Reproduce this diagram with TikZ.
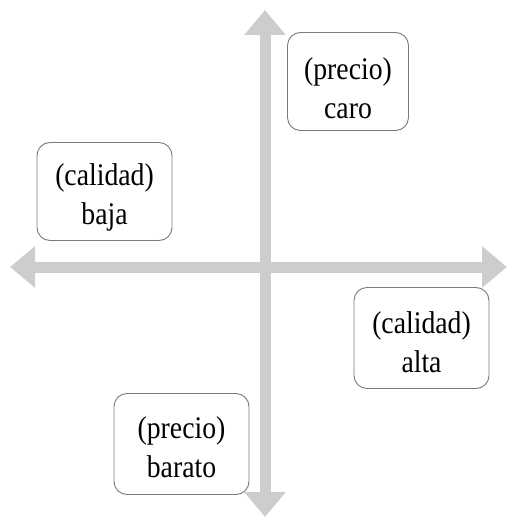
\documentclass[tikz,border=0pt]{standalone}
\usepackage{fontspec}
\setmainfont{Liberation Serif}
\newfontfamily\boxfont[FakeStretch=0.88]{Liberation Serif}
\usetikzlibrary{arrows.meta}
\definecolor{axisgray}{HTML}{CDCDCD}
\definecolor{boxgray}{HTML}{7A7A7A}
\tikzset{
  axisline/.style={draw=axisgray, line width=11pt, -{Triangle[width=40pt,length=25pt]}},
  labelbox/.style={draw=boxgray, line width=0.9pt, rounded corners=13pt, fill=white, inner sep=0pt},
  labeltext/.style={align=center, inner sep=0pt, font=\boxfont\fontsize{31.5}{39}\selectfont},
}
\begin{document}
\begin{tikzpicture}[x=1pt,y=-1pt]
\useasboundingbox (0,0) rectangle (517,521);
\coordinate (c) at (265,267);
\coordinate (top) at (265,10);
\coordinate (bot) at (265,517);
\coordinate (left) at (10,267);
\coordinate (right) at (507,267);
\draw[axisline] (c) -- (top);
\draw[axisline] (c) -- (bot);
\draw[axisline] (c) -- (left);
\draw[axisline] (c) -- (right);
\node[labelbox, minimum width=121pt, minimum height=98pt] (caro) at (348,81.5) {};
\node[labelbox, minimum width=135pt, minimum height=98pt] (baja) at (104.5,191.5) {};
\node[labelbox, minimum width=135pt, minimum height=101pt] (alta) at (421.5,338) {};
\node[labelbox, minimum width=135pt, minimum height=101pt] (barato) at (181.5,444) {};
\node[labeltext] (carotext) at (348,88) {(precio)\\caro};
\node[labeltext] (bajatext) at (104.5,197) {(calidad)\\baja};
\node[labeltext] (altatext) at (421.5,342) {(calidad)\\alta};
\node[labeltext] (baratotext) at (181.5,447.5) {(precio)\\barato};
\end{tikzpicture}
\end{document}
